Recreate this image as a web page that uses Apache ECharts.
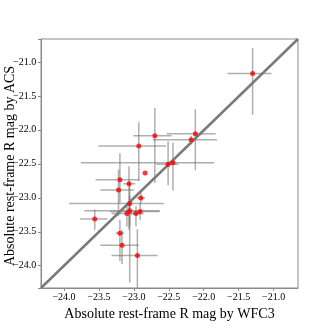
<!DOCTYPE html>
<html>
<head>
<meta charset="utf-8">
<script src="https://cdn.jsdelivr.net/npm/echarts@6/dist/echarts.min.js"></script>
<style>
  html, body { margin: 0; background: #fff; }
  #chart { width: 332px; height: 332px; }
</style>
</head>
<body>
<div id="chart"></div>
<script>
// 星等数据：WFC3 (x) 与 ACS (y)，以及误差棒两端
const wfc3Mag = [-21.30, -22.12, -22.18, -22.70, -22.93, -22.51, -22.44, -22.84, -23.20, -23.07, -23.22,
                 -22.90, -23.06, -23.06, -22.91, -23.10, -22.97, -23.56, -23.20, -23.17, -22.95];
const acsMag  = [-21.16, -22.05, -22.14, -22.08, -22.23, -22.50, -22.48, -22.63, -22.73, -22.79, -22.88,
                 -23.00, -23.08, -23.19, -23.20, -23.23, -23.23, -23.31, -23.52, -23.70, -23.85];
const wfc3Lo  = [-21.66, -22.53, -22.73, -23.01, -23.51, -22.68, -23.76, -22.84, -23.55, -23.15, -23.48,
                 -22.96, -23.93, -23.71, -23.34, -23.32, -23.05, -23.77, -23.26, -23.48, -23.32];
const wfc3Hi  = [-21.03, -21.83, -21.81, -22.46, -22.54, -22.36, -21.85, -22.84, -22.92, -22.98, -23.00,
                 -22.84, -22.57, -22.63, -22.63, -22.86, -22.91, -23.38, -23.14, -22.93, -22.66];
const acsHi   = [-20.78, -21.69, -22.08, -21.67, -21.88, -22.16, -22.18, -22.63, -22.34, -22.53, -22.58,
                 -22.93, -22.78, -22.97, -23.07, -23.07, -23.12, -23.17, -23.32, -23.47, -23.46];
const acsLo   = [-21.77, -22.59, -22.21, -22.78, -22.75, -22.81, -22.89, -22.63, -23.07, -23.47, -23.27,
                 -23.08, -24.25, -23.42, -23.32, -23.42, -23.42, -23.47, -23.93, -23.98, -24.35];

// 坐标范围与 y 轴刻度
const axisRange = [-24.33, -20.65];
const yTicks = [-24.0, -23.5, -23.0, -22.5, -22.0, -21.5, -21.0];
const xTitle = 'Absolute rest-frame R mag by WFC3';
const yTitle = 'Absolute rest-frame R mag by ACS';

const gridLeft = 41;
const chart = echarts.init(document.getElementById('chart'));

const errData = wfc3Mag.map((x, i) => [x, acsMag[i], wfc3Lo[i], wfc3Hi[i], acsLo[i], acsHi[i]]);
const ptData = wfc3Mag.map((x, i) => [x, acsMag[i]]);

const fontFamily = 'Liberation Serif, DejaVu Serif, serif';
const frameColor = '#8a8a8a';
const fmt = v => (v < 0 ? '\u2212' : '') + Math.abs(v).toFixed(1);

function makeAxis(name, showLabel) {
  return {
    type: 'value',
    min: axisRange[0],
    max: axisRange[1],
    splitNumber: 7,
    name: name,
    nameLocation: 'middle',
    nameGap: 14,
    nameTextStyle: { fontFamily, fontSize: 14, color: '#000' },
    axisLine: { show: true, onZero: false, lineStyle: { color: frameColor, width: 1 } },
    axisTick: { show: true, length: 3, lineStyle: { color: frameColor } },
    axisLabel: {
      show: showLabel, formatter: fmt, showMinLabel: false, showMaxLabel: false,
      fontFamily, fontSize: 10, color: '#000', margin: 4
    },
    splitLine: { show: false }
  };
}

const option = {
  animation: false,
  grid: {
    left: gridLeft, top: 39, right: 34, bottom: 44,
    containLabel: false, outerBoundsMode: 'none',
    show: true, borderColor: frameColor, borderWidth: 1
  },
  xAxis: makeAxis(xTitle, true),
  yAxis: makeAxis('', false),
  series: [
    {
      // 误差棒
      type: 'custom',
      clip: true,
      z: 1,
      data: errData,
      renderItem: (params, api) => {
        const c = api.coord([api.value(0), api.value(1)]);
        const xl = api.coord([api.value(2), api.value(1)]);
        const xh = api.coord([api.value(3), api.value(1)]);
        const yl = api.coord([api.value(0), api.value(4)]);
        const yh = api.coord([api.value(0), api.value(5)]);
        const style = { stroke: 'rgba(110,110,110,0.55)', lineWidth: 1.5 };
        return {
          type: 'group',
          children: [
            { type: 'line', shape: { x1: xl[0], y1: c[1], x2: xh[0], y2: c[1] }, style },
            { type: 'line', shape: { x1: c[0], y1: yl[1], x2: c[0], y2: yh[1] }, style }
          ]
        };
      }
    },
    {
      // 1:1 线
      type: 'line',
      z: 2,
      symbol: 'none',
      data: [[axisRange[0], axisRange[0]], [axisRange[1], axisRange[1]]],
      lineStyle: { color: '#7a7a7a', width: 2.5 }
    },
    {
      type: 'scatter',
      z: 3,
      symbolSize: 5,
      itemStyle: { color: '#ff0000' },
      data: ptData
    }
  ]
};
chart.setOption(option);

// y 轴标签：量出文字宽度，用 left/top 布局放在轴线左侧
const measureCtx = document.createElement('canvas').getContext('2d');
measureCtx.font = "10px 'Liberation Serif', 'DejaVu Serif', serif";
const yLabels = yTicks.map(v => {
  const text = fmt(v);
  const w = measureCtx.measureText(text).width;
  return {
    type: 'text',
    left: Math.round(gridLeft - 5 - w),
    top: Math.round(chart.convertToPixel({ yAxisIndex: 0 }, v) - 6),
    style: { text: text, fontFamily, fontSize: 10, fill: '#000' }
  };
});
chart.setOption({
  graphic: [{
    type: 'text',
    left: 3,
    top: 'middle',
    rotation: Math.PI / 2,
    style: { text: yTitle, fontFamily, fontSize: 14, fill: '#000' }
  }].concat(yLabels)
});
</script>
</body>
</html>
